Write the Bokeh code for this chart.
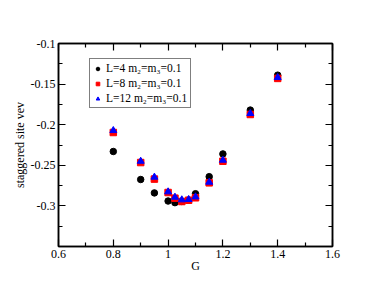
from bokeh.plotting import figure
from bokeh.models import LinearAxis, Legend, LegendItem, FixedTicker, Range1d
from bokeh.embed import file_html
from bokeh.resources import INLINE

G = [0.8, 0.9, 0.95, 1.0, 1.025, 1.05, 1.075, 1.1, 1.15, 1.2, 1.3, 1.4]
vev_L4 = [-0.233, -0.2675, -0.284, -0.294, -0.296, -0.2945, -0.293, -0.285, -0.264, -0.236, -0.182, -0.139]
vev_L8 = [-0.2096, -0.2466, -0.267, -0.2835, -0.2905, -0.2946, -0.293, -0.290, -0.2716, -0.245, -0.1874, -0.143]
vev_L12 = [-0.2072, -0.245, -0.2646, -0.2827, -0.2893, -0.2925, -0.2921, -0.2889, -0.2708, -0.2437, -0.1862, -0.1419]
labels = ["L=4 m\u2082=m\u2083=0.1", "L=8 m\u2082=m\u2083=0.1", "L=12 m\u2082=m\u2083=0.1"]
x_ticks = [0.6, 0.8, 1.0, 1.2, 1.4, 1.6]
x_tick_labels = ["0.6", "0.8", "1", "1.2", "1.4", "1.6"]
y_ticks = [-0.3, -0.25, -0.2, -0.15, -0.1]
y_tick_labels = ["-0.3", "-0.25", "-0.2", "-0.15", "-0.1"]

FONT = "Liberation Serif"

p = figure(width=366, height=281, output_backend="svg", toolbar_location=None,
           x_range=Range1d(0.6, 1.6), y_range=Range1d(-0.35, -0.1),
           min_border_left=58, min_border_right=34, min_border_top=43, min_border_bottom=35,
           x_axis_label="G", y_axis_label="staggered site vev")
p.xgrid.visible = False
p.ygrid.visible = False
p.outline_line_color = "black"
p.outline_line_width = 1.5
p.background_fill_color = "white"
p.border_fill_color = "white"

def style(ax, ticks, labs, half_below):
    step = ticks[1] - ticks[0]
    minors = [t + step / 2 for t in ticks[:-1]]
    if half_below:
        minors = [ticks[0] - step / 2] + minors
    ax.ticker = FixedTicker(ticks=ticks, minor_ticks=minors)
    ax.major_label_overrides = {t: l for t, l in zip(ticks, labs)}
    ax.axis_line_color = "black"
    ax.axis_line_width = 1.5
    ax.major_tick_in = 7
    ax.major_tick_out = 0
    ax.minor_tick_in = 4
    ax.minor_tick_out = 0
    ax.major_tick_line_width = 1.2
    ax.minor_tick_line_width = 1.2
    ax.major_tick_line_color = "black"
    ax.minor_tick_line_color = "black"
    ax.major_label_text_font = FONT
    ax.major_label_text_font_size = "12px"
    ax.major_label_text_color = "black"
    ax.axis_label_text_font = FONT
    ax.axis_label_text_font_size = "12px"
    ax.axis_label_text_font_style = "normal"
    ax.axis_label_text_color = "black"

style(p.xaxis[0], x_ticks, x_tick_labels, False)
style(p.yaxis[0], y_ticks, y_tick_labels, True)
p.xaxis[0].major_label_standoff = 3
p.yaxis[0].major_label_standoff = 3
p.xaxis[0].axis_label_standoff = -2
p.yaxis[0].axis_label_standoff = 1

top = LinearAxis()
style(top, x_ticks, [""] * len(x_ticks), False)
top.major_label_standoff = 0
p.add_layout(top, "above")
right = LinearAxis()
style(right, y_ticks, [""] * len(y_ticks), True)
right.major_label_standoff = 0
p.add_layout(right, "right")

r1 = p.scatter(G, vev_L4, marker="circle", size=6.5, color="black")
r2 = p.scatter(G, vev_L8, marker="square", size=6.5, color="red")
r3 = p.scatter(G, vev_L12, marker="triangle", size=7, color="blue")

legend = Legend(items=[LegendItem(label=labels[0], renderers=[r1]),
                       LegendItem(label=labels[1], renderers=[r2]),
                       LegendItem(label=labels[2], renderers=[r3])],
                location=(31, 138))
legend.border_line_color = "black"
legend.border_line_width = 1.5
legend.background_fill_color = "white"
legend.background_fill_alpha = 1
legend.label_text_font = FONT
legend.label_text_font_size = "11.5px"
legend.label_text_color = "black"
legend.glyph_width = 9
legend.glyph_height = 9
legend.label_height = 9
legend.spacing = 3
legend.padding = 3
legend.margin = 0
legend.label_standoff = 4
p.add_layout(legend, "center")

open("out.html", "w").write(file_html(p, INLINE))
